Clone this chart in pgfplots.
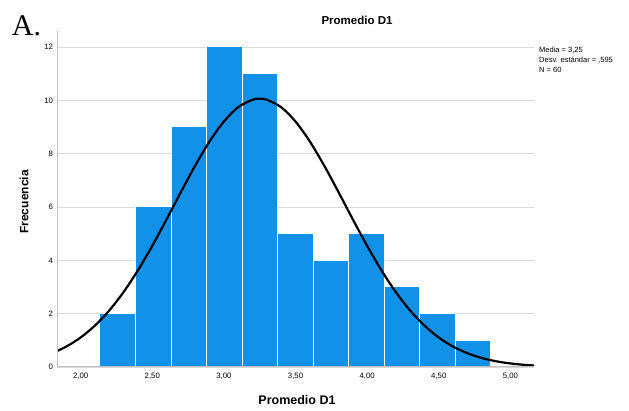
\documentclass[border=0pt]{standalone}
\usepackage{pgfplots}
\pgfplotsset{compat=1.18}
\usepackage{fontspec}
\setmainfont{Liberation Sans}
\newfontfamily\seriffont{Liberation Serif}
\definecolor{barblue}{RGB}{17,146,232}
\definecolor{axisgray}{RGB}{190,190,190}
\definecolor{gridgray}{RGB}{218,218,218}
\pgfplotsset{layers/mylayers/.define layer set={axis background,axis grid,main,axis ticks,axis lines,axis tick labels,axis descriptions,axis foreground}{/pgfplots/layers/standard}}
\begin{document}
\begin{tikzpicture}[x=1pt,y=1pt]
\begin{axis}[
  set layers=mylayers,
  scale only axis,
  width=477pt, height=336pt,
  at={(57pt,44pt)}, anchor=south west,
  xmin=1.835, xmax=5.165, ymin=0, ymax=12.6,
  axis lines*=left,
  axis line style={draw=axisgray, line width=1pt},
  major tick length=0pt,
  xtick={2,2.5,3,3.5,4,4.5,5},
  xticklabels={{2,00},{2,50},{3,00},{3,50},{4,00},{4,50},{5,00}},
  ytick={0,2,4,6,8,10,12},
  ymajorgrids,
  grid style={draw=gridgray, line width=0.9pt},
  tick label style={font=\fontsize{7.8}{9}\selectfont},
  xticklabel style={yshift=-3pt},
  yticklabel style={xshift=-0.5pt},
  /pgf/number format/assume math mode=true,
]
\addplot[ybar interval, fill=barblue, draw=white, line width=1pt] coordinates {
(2.135,2) (2.383,6) (2.631,9) (2.879,12) (3.127,11) (3.375,5) (3.623,4) (3.871,5) (4.119,3) (4.367,2) (4.615,1) (4.863,1)
};
\addplot[black, line width=2.2pt, smooth] coordinates {
(1.70,0.338) (1.80,0.516) (1.90,0.767) (2.00,1.106) (2.10,1.554) (2.20,2.120) (2.30,2.811) (2.40,3.626) (2.50,4.544) (2.60,5.537) (2.70,6.560) (2.80,7.556) (2.90,8.459) (3.00,9.207) (3.10,9.742) (3.20,10.022) (3.25,10.057) (3.30,10.022) (3.40,9.742) (3.50,9.207) (3.60,8.459) (3.70,7.556) (3.80,6.560) (3.90,5.537) (4.00,4.544) (4.10,3.626) (4.20,2.811) (4.30,2.120) (4.40,1.554) (4.50,1.106) (4.60,0.767) (4.70,0.516) (4.80,0.338) (4.90,0.215) (5.00,0.133) (5.10,0.080) (5.20,0.047)
};
\end{axis}
\node[font=\bfseries\fontsize{11.5}{13}\selectfont] at (357,390.5) {Promedio D1};
\node[font=\bfseries\fontsize{12.5}{14}\selectfont] at (297,11) {Promedio D1};
\node[font=\bfseries\fontsize{12}{14}\selectfont, rotate=90] at (24,209) {Frecuencia};
\node[anchor=north west, inner sep=0pt, align=left, font=\fontsize{7.5}{10}\selectfont] at (539,364) {Media = 3,25\\Desv. est\'andar = ,595\\N = 60};
\node[font=\seriffont\fontsize{30}{31}\selectfont] at (26.5,385.5) {A.};
\path (0,0) rectangle (629,411);
\end{tikzpicture}
\end{document}
